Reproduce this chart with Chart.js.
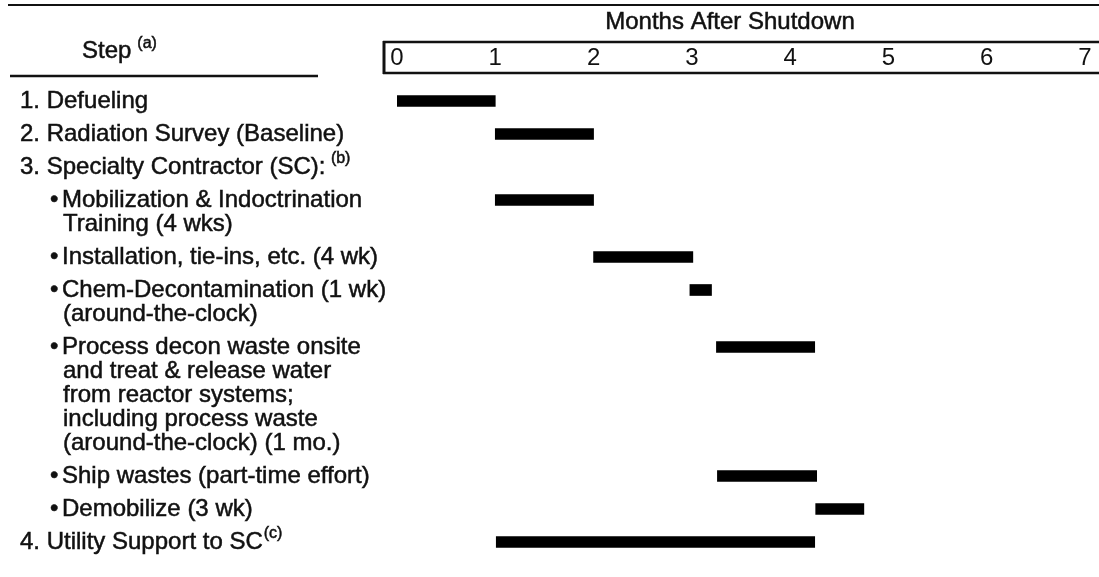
<!DOCTYPE html>
<html>
<head>
<meta charset="utf-8">
<script src="https://cdn.jsdelivr.net/npm/chart.js@4.4.0/dist/chart.umd.min.js"></script>
<style>
    html, body { margin: 0; padding: 0; background: #fff; }
    #wrap { width: 1099px; height: 577px; position: relative; }
</style>
</head>
<body>
<div id="wrap"><canvas id="gantt"></canvas></div>
<script>
// Step labels, one entry per row, one string per printed line
const stepLabels = [
    ['1. Defueling'],
    ['2. Radiation Survey (Baseline)'],
    ['3. Specialty Contractor (SC):'],
    ['• Mobilization & Indoctrination', 'Training (4 wks)'],
    ['• Installation, tie-ins, etc. (4 wk)'],
    ['• Chem-Decontamination (1 wk)', '(around-the-clock)'],
    ['• Process decon waste onsite', 'and treat & release water', 'from reactor systems;',
     'including process waste', '(around-the-clock) (1 mo.)'],
    ['• Ship wastes (part-time effort)'],
    ['• Demobilize (3 wk)'],
    ['4. Utility Support to SC']
];
const stepNotes = ['', '', ' (b)', '', '', '', '', '', '', '(c)'];

// months after shutdown
const startMonth = [0, 1, null, 1, 2, 2.98, 3.25, 3.26, 4.26, 1.01];
const endMonth   = [1, 2, null, 2, 3.01, 3.2, 4.25, 4.27, 4.75, 4.25];

const monthTicks = [0, 1, 2, 3, 4, 5, 6, 7];
const axisTitle = 'Months After Shutdown';
const stepHeader = 'Step';
const stepHeaderNote = '(a)';

const FONT = '"Liberation Sans", Arial, Helvetica, sans-serif';
const ROW_PX = 33;      // one single-line row
const LINE_PX = 24;     // extra wrapped line

// row positions on the y scale, from the number of printed lines
const rowPos = [];
let acc = 0;
stepLabels.forEach(lines => {
    rowPos.push(acc);
    acc += 1 + (lines.length - 1) * LINE_PX / ROW_PX;
});

const bars = [];
startMonth.forEach((s, i) => {
    if (s === null) return;
    bars.push({ x: [s, endMonth[i]], y: rowPos[i] });
});

function inkText(ctx, txt, x, y) {
    // scanned print is a little heavier than the plain face
    ctx.fillText(txt, x, y);
    ctx.strokeText(txt, x, y);
}

const labelsPlugin = {
    id: 'stepLabels',
    afterDraw(chart) {
        const ctx = chart.ctx;
        const yScale = chart.scales.y;
        ctx.save();
        ctx.fillStyle = '#111';
        ctx.strokeStyle = '#111';
        ctx.textBaseline = 'middle';

        // header rules and box
        ctx.lineWidth = 2;
        ctx.beginPath();
        ctx.moveTo(8, 5); ctx.lineTo(1099, 5);
        ctx.stroke();

        ctx.lineWidth = 2.5;
        ctx.beginPath();
        ctx.moveTo(10, 76); ctx.lineTo(318, 76);
        ctx.moveTo(383, 42); ctx.lineTo(1099, 42);
        ctx.moveTo(383, 73); ctx.lineTo(1099, 73);
        ctx.stroke();
        ctx.lineWidth = 3;
        ctx.beginPath();
        ctx.moveTo(384, 41); ctx.lineTo(384, 74);
        ctx.stroke();

        ctx.lineWidth = 0.5;
        ctx.font = `24px ${FONT}`;
        ctx.textAlign = 'center';
        inkText(ctx, axisTitle, 730, 22);

        ctx.textAlign = 'left';
        ctx.font = `24px ${FONT}`;
        inkText(ctx, stepHeader, 82, 51);
        const hw = ctx.measureText(stepHeader).width;
        ctx.font = `16px ${FONT}`;
        inkText(ctx, stepHeaderNote, 82 + hw + 6, 44);

        // step labels
        stepLabels.forEach((lines, i) => {
            const y0 = yScale.getPixelForValue(rowPos[i]);
            let endX = 0;
            lines.forEach((line, j) => {
                const ly = y0 + j * LINE_PX;
                ctx.font = `24px ${FONT}`;
                if (/^\d\./.test(line)) {
                    inkText(ctx, line, 20, ly);
                    if (j === 0) endX = 20 + ctx.measureText(line).width;
                } else if (line.startsWith('•')) {
                    const txt = line.slice(1).trim();
                    inkText(ctx, '•', 50, ly);
                    inkText(ctx, txt, 62, ly);
                    if (j === 0) endX = 62 + ctx.measureText(txt).width;
                } else {
                    inkText(ctx, line, 63, ly);
                }
            });
            if (stepNotes[i]) {
                ctx.font = `16px ${FONT}`;
                inkText(ctx, stepNotes[i], endX + 1, y0 - 8);
            }
        });
        ctx.restore();
    }
};

new Chart(document.getElementById('gantt'), {
    type: 'bar',
    data: {
        datasets: [{
            data: bars,
            backgroundColor: '#000',
            borderWidth: 0,
            barThickness: 11
        }]
    },
    options: {
        indexAxis: 'y',
        responsive: true,
        maintainAspectRatio: false,
        animation: false,
        layout: { padding: { top: 40, left: 397, right: 14, bottom: 10 } },
        plugins: { legend: { display: false }, tooltip: { enabled: false } },
        scales: {
            x: {
                type: 'linear',
                position: 'top',
                min: 0,
                max: 7,
                grid: { display: false, drawTicks: false },
                border: { display: false },
                afterBuildTicks: scale => { scale.ticks = monthTicks.map(v => ({ value: v })); },
                afterFit: scale => { scale.height = 35; },
                ticks: {
                    padding: 2,
                    color: '#111',
                    maxRotation: 0,
                    font: { family: FONT, size: 24 }
                }
            },
            y: {
                type: 'linear',
                display: false,
                reverse: true,
                offset: false,
                min: -(101 - 75) / ROW_PX,
                max: -(101 - 75) / ROW_PX + 492 / ROW_PX
            }
        }
    },
    plugins: [labelsPlugin]
});
</script>
</body>
</html>
